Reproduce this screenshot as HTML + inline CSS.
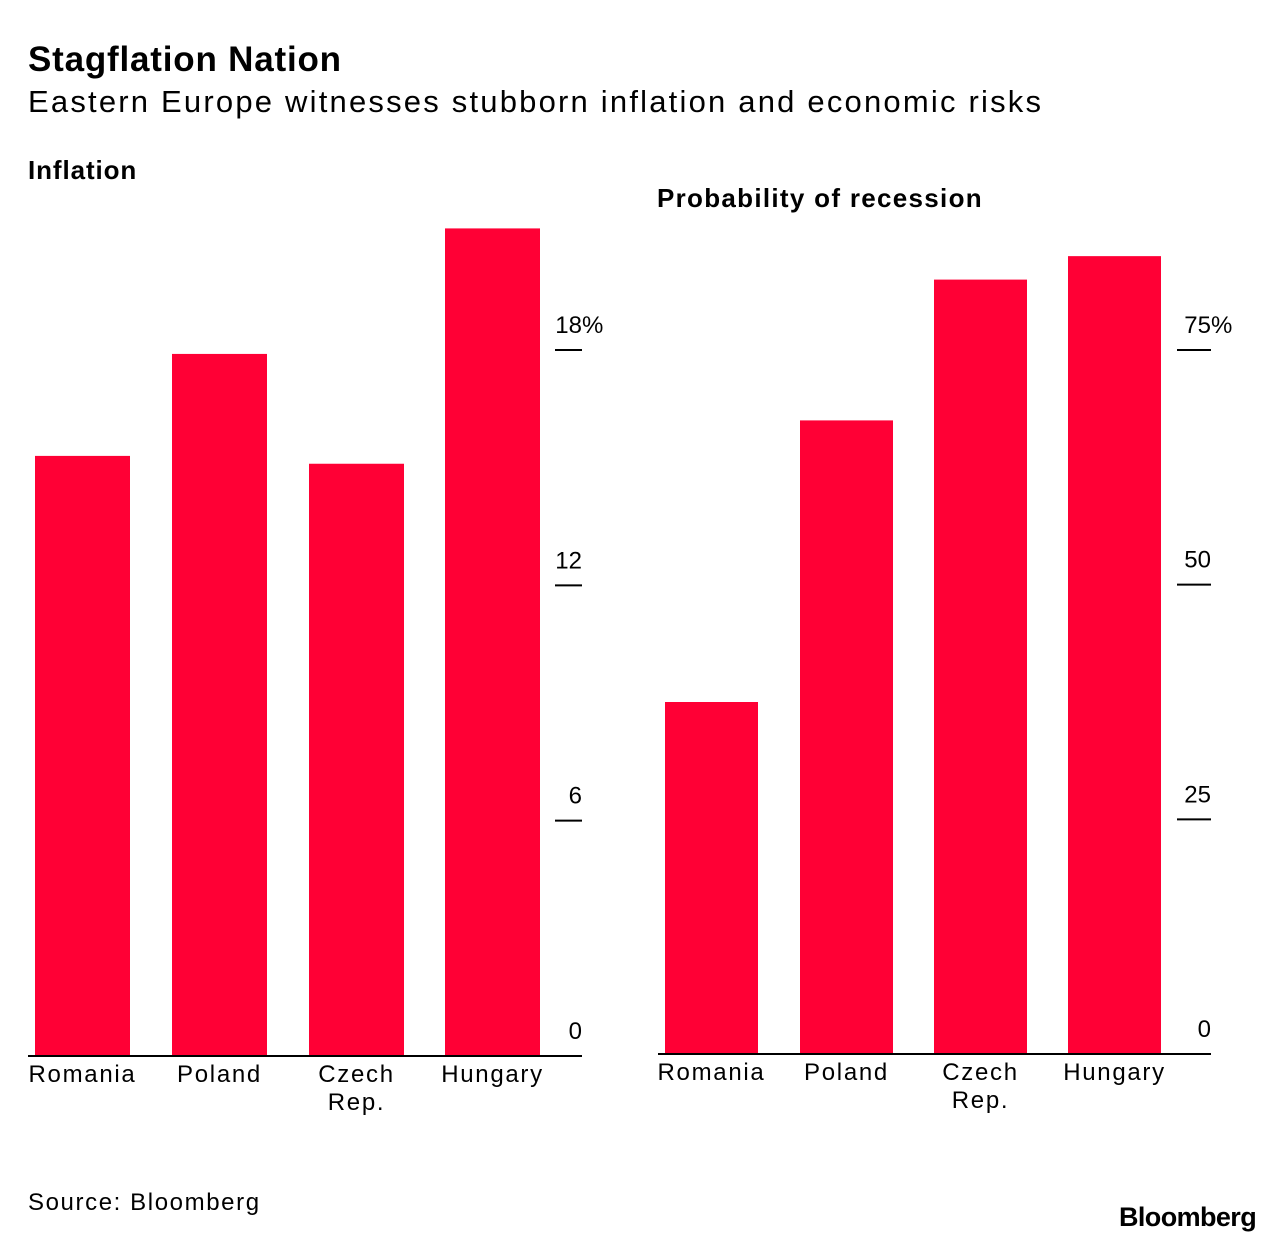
<!DOCTYPE html>
<html><head><meta charset="utf-8"><style>
body{margin:0;width:1287px;height:1244px;background:#fff;font-family:"Liberation Sans",sans-serif;overflow:hidden;position:relative}
.t{position:absolute;white-space:nowrap;color:#000}
</style></head><body>
<div class="t" style="left:28px;top:40px;font-size:35px;font-weight:bold;letter-spacing:0.8px">Stagflation Nation</div>
<div class="t" style="left:28px;top:84px;font-size:31px;letter-spacing:2.2px">Eastern Europe witnesses stubborn inflation and economic risks</div>
<div class="t" style="left:28px;top:155px;font-size:26px;font-weight:bold;letter-spacing:0.9px">Inflation</div>
<div class="t" style="left:657px;top:183px;font-size:26px;font-weight:bold;letter-spacing:1.3px">Probability of recession</div>
<div class="t" style="left:28px;top:1189px;font-size:24px;letter-spacing:1.6px">Source: Bloomberg</div>
<div class="t" style="left:1119px;top:1202px;font-size:27px;font-weight:bold;letter-spacing:-0.6px">Bloomberg</div>
<svg id="chart" width="1287" height="1244" style="position:absolute;left:0;top:0"></svg>
<script>
const categories=["Romania","Poland","Czech|Rep.","Hungary"];
const inflationValues=[15.3,17.9,15.1,21.1];
const inflationTicks=[0,6,12,18];
const recessionValues=[37.5,67.5,82.5,85];
const recessionTicks=[0,25,50,75];
const NS="http://www.w3.org/2000/svg";
const svg=document.getElementById('chart');
function mk(tag,attrs){const e=document.createElementNS(NS,tag);for(const k in attrs)e.setAttribute(k,attrs[k]);svg.appendChild(e);return e;}
function panel(o){
  const y=v=>o.y0-(v/o.maxV)*(o.y0-o.yTop);
  o.vals.forEach((v,i)=>{
    const x=o.barX[i];
    const r=mk('rect',{x:x,y:y(v),width:o.bw,height:o.y0-y(v),fill:'#ff0035'});
    
    
    categories[i].split('|').forEach((line,j)=>{
      const t=mk('text',{x:x+o.bw/2,y:o.y0+26+j*28,'text-anchor':'middle','font-size':24,'letter-spacing':1.7,'font-family':'Liberation Sans, sans-serif'});
      t.textContent=line;
      
      
    });
  });
  o.ticks.forEach((v,i)=>{
    const ty=y(v);
    if(v>0){const l=mk('line',{x1:o.tx1,x2:o.tx2,y1:ty,y2:ty,stroke:'#000','stroke-width':2});
      
      }
    const t=mk('text',{x:o.tx2,y:ty-17,'text-anchor':'end','font-size':24,'font-family':'Liberation Sans, sans-serif'});
    t.textContent=v;
    
    
    if(i===o.ticks.length-1){const p=mk('text',{x:o.tx2,y:ty-17,'font-size':24,'font-family':'Liberation Sans, sans-serif'});p.textContent='%';
      
      }
  });
  const b=mk('line',{x1:o.bx1,x2:o.tx2,y1:o.y0,y2:o.y0,stroke:'#000','stroke-width':2});
  
  
}
panel({id:'inflation',vals:inflationValues,ticks:inflationTicks,y0:1056,yTop:350,maxV:18,barX:[35,172,309,445],bw:95,tx1:555,tx2:582,bx1:28});
panel({id:'recession',vals:recessionValues,ticks:recessionTicks,y0:1054,yTop:350,maxV:75,barX:[665,800,934,1068],bw:93,tx1:1177,tx2:1211,bx1:658});
</script>
</body></html>
